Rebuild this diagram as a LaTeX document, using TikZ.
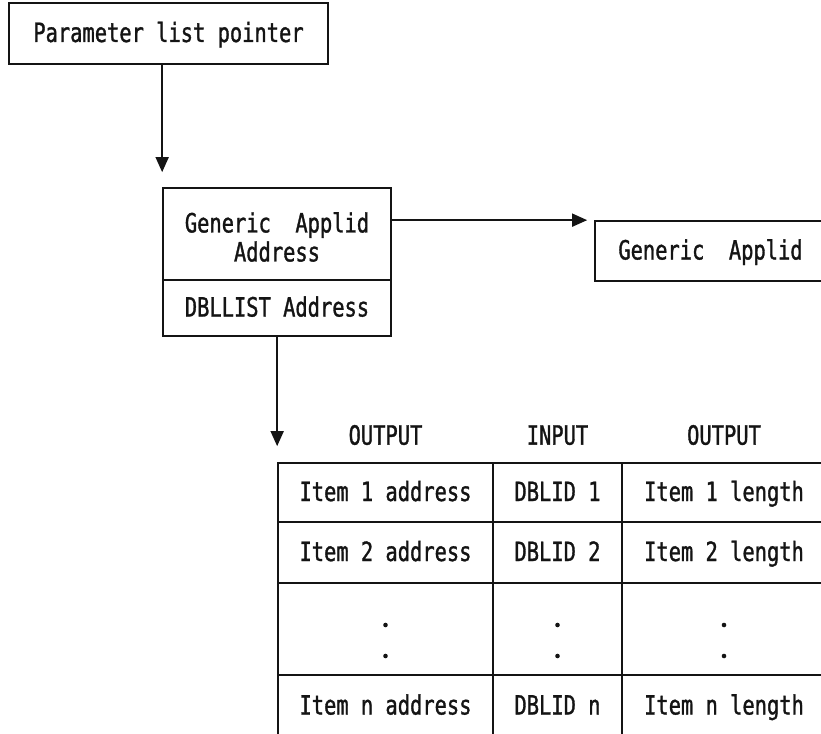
\documentclass[tikz,border=0pt]{standalone}
\usepackage{fontspec}
\usetikzlibrary{arrows.meta}
\newfontfamily\diafont{DejaVu Sans Mono}[FakeStretch=0.77, FakeBold=1.2]
\definecolor{ink}{HTML}{141414}
\begin{document}
\begin{tikzpicture}[x=1pt,y=-1pt,
  every node/.style={font=\diafont\fontsize{26.5}{29}\selectfont, text=ink},
  box/.style={draw=ink, line width=1.7pt, inner sep=0pt, align=center},
  oneline/.style={text height=19pt, text depth=2pt},
  cell/.style={box, oneline},
  arr/.style={draw=ink, line width=1.7pt, -{Triangle[length=15pt,width=13pt]}},
  hdr/.style={inner sep=0pt, oneline}]
\useasboundingbox (0,0) rectangle (821,733);
\clip (0,0) rectangle (821,733);

% parameter list pointer
\node[box, oneline, minimum width=319pt, minimum height=61pt] (param) at (168.5,33.5) {Parameter list pointer};

% two-part block: applid address and list address
\node[box, minimum width=228pt, minimum height=92pt] (gaa) at (277,234) {};
\node[inner sep=0pt, align=center] (gaatext) at ([yshift=-3pt]gaa.center) {Generic~~Applid\\Address};
\node[box, oneline, minimum width=228pt, minimum height=56pt] (dbl) at (277,308) {DBLLIST Address};

% generic applid field
\node[box, oneline, minimum width=231pt, minimum height=60pt] (ga) at (710.5,251) {Generic~~Applid};

% item list table
\begin{scope}[every node/.append style={cell}]
  % row 1
  \node[minimum width=215pt, minimum height=59pt] (c11) at (385.5,492.5) {Item 1 address};
  \node[minimum width=129pt, minimum height=59pt] (c12) at (557.5,492.5) {DBLID 1};
  \node[minimum width=204pt, minimum height=59pt] (c13) at (724,492.5) {Item 1 length};
  % row 2
  \node[minimum width=215pt, minimum height=61pt] (c21) at (385.5,552.5) {Item 2 address};
  \node[minimum width=129pt, minimum height=61pt] (c22) at (557.5,552.5) {DBLID 2};
  \node[minimum width=204pt, minimum height=61pt] (c23) at (724,552.5) {Item 2 length};
  % row 3 (continuation)
  \node[minimum width=215pt, minimum height=92pt] (c31) at (385.5,629) {};
  \node[minimum width=129pt, minimum height=92pt] (c32) at (557.5,629) {};
  \node[minimum width=204pt, minimum height=92pt] (c33) at (724,629) {};
  % row 4
  \node[minimum width=215pt, minimum height=62pt] (c41) at (385.5,706) {Item n address};
  \node[minimum width=129pt, minimum height=62pt] (c42) at (557.5,706) {DBLID n};
  \node[minimum width=204pt, minimum height=62pt] (c43) at (724,706) {Item n length};
\end{scope}

% vertical ellipsis dots
\foreach \c in {c31,c32,c33}{
  \fill[ink] ([yshift=4pt]\c.center) circle (2.3pt);
  \fill[ink] ([yshift=-27pt]\c.center) circle (2.3pt);
}

% column headings
\node[hdr] (h1) at ([yshift=26pt]c11.north) {OUTPUT};
\node[hdr] (h2) at ([yshift=26pt]c12.north) {INPUT};
\node[hdr] (h3) at ([yshift=26pt]c13.north) {OUTPUT};

% connectors
\draw[arr] (param.south -| gaa.west) -- ([yshift=15pt]gaa.north west);
\draw[arr] (gaa.east |- ga.north west) -- ([xshift=-7pt]ga.north west);
\draw[arr] (dbl.south -| c11.west) -- ([yshift=16pt]c11.north west);
\end{tikzpicture}
\end{document}
